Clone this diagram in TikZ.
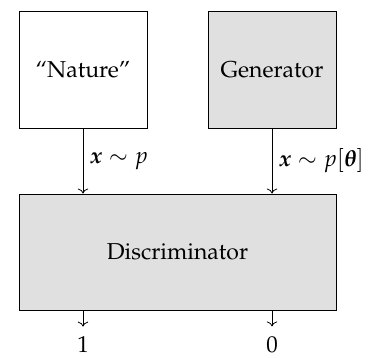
\documentclass[tikz,border=0pt]{standalone}
\usepackage[T1]{fontenc}
\usepackage{amsmath}
\usepackage{mathpazo}
\usepackage{tikz}
\usetikzlibrary{positioning, arrows.meta, calc}
\usepackage{xcolor}
\definecolor{blockfill}{HTML}{E0E0E0}
\tikzset{
  % plain box
  block/.style={draw=black, fill=#1, line width=0.5pt,
                minimum width=64pt, minimum height=58pt,
                font=\fontsize{11.5}{14}\selectfont},
  % output value
  outval/.style={inner sep=0.5pt, font=\fontsize{11.5}{14}\selectfont},
  % signal arrow
  flow/.style={->, line width=0.4pt},
}

\begin{document}
\begin{tikzpicture}[x=0.5pt, y=-0.5pt]
  \useasboundingbox (0,0) rectangle (369,358);
  % sources
  \node[block=white]     (nature) at ( 83, 70) {``Nature''};
  \node[block=blockfill] (gen)    at (272, 70) {Generator};
  % discriminator
  \node[block=blockfill, minimum width=158.5pt] (disc) at (177.5,252)
    {Discriminator};
  % samples
  \draw[flow] (nature) -- (nature |- disc.north)
    node[midway, right, font=\fontsize{11.5}{14}\selectfont]
    {$\boldsymbol{x} \sim p$};
  \draw[flow] (gen) -- (gen |- disc.north)
    node[midway, right, font=\fontsize{11.5}{14}\selectfont]
    {$\boldsymbol{x} \sim p[\boldsymbol{\theta}]$};
  % outputs
  \node[outval] (one)  at ( 83,345) {1};
  \node[outval] (zero) at (272,345) {0};
  \draw[flow] (disc.south -| one)  -- ($(one.north)+(0,-9)$);
  \draw[flow] (disc.south -| zero) -- ($(zero.north)+(0,-9)$);
\end{tikzpicture}
\end{document}
